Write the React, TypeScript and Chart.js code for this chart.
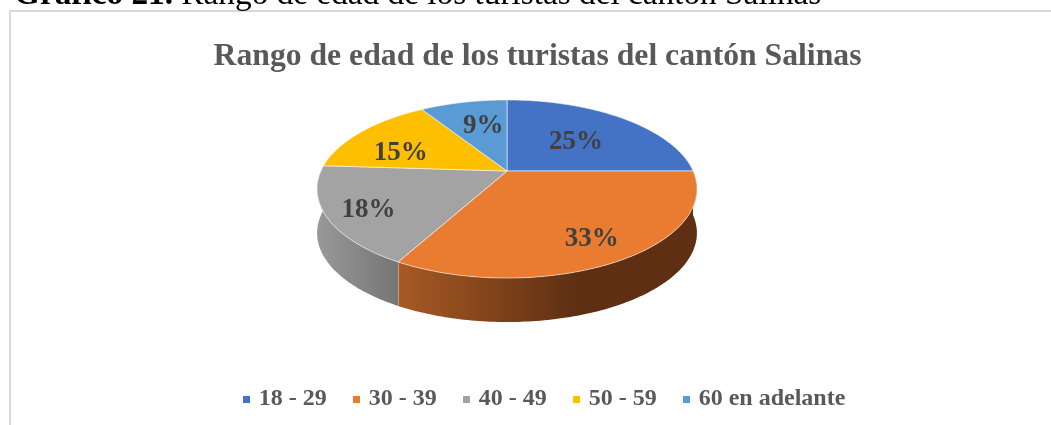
import React, { useEffect, useRef } from "react";
import { Chart, registerables } from "chart.js";

Chart.register(...registerables);

const categories = ["18 - 29", "30 - 39", "40 - 49", "50 - 59", "60 en adelante"];
const shares = [25, 33, 18, 15, 9];
const sliceColors = ["#4472C4", "#E97C30", "#A3A3A3", "#FDBF00", "#5B9BD5"];
const sideStart = ["#2F5597", "#A85A24", "#999999", "#B38600", "#3F74A6"];
const sideEnd = ["#2F5597", "#5E2F12", "#757575", "#B38600", "#3F74A6"];
const labelNudgeX = [-6, 19, -31, -13, 5];
const labelNudgeY = [5, 17, 12, 7, 0];
const caption = "Rango de edad de los turistas del cantón Salinas";
const heading = "Gráfico 21.";
const headingRest = " Rango de edad de los turistas del cantón Salinas";

const SERIF = '"Liberation Serif", "Times New Roman", serif';
const CANVAS_LEFT = 10;
const CANVAS_TOP = 12;
const APEX_X = 507 - CANVAS_LEFT;
const APEX_Y = 171 - CANVAS_TOP;
const RX = 186;
const RY = 85.4;
const PERSPECTIVE = -0.202;
const DEPTH = 44;
const LEGEND_SHIFT = 8;

function project(angle: number, r = 1) {
  const u = Math.cos(angle) * r;
  const v = Math.sin(angle) * r;
  const d = 1 + PERSPECTIVE * v;
  return { x: APEX_X + (RX * u) / d, y: APEX_Y + (RY * v) / d };
}

function swatch(color: string) {
  const c = document.createElement("canvas");
  c.width = 7;
  c.height = 7;
  const g = c.getContext("2d") as CanvasRenderingContext2D;
  g.fillStyle = color;
  g.fillRect(0, 0, 7, 7);
  return c;
}

const pie3d = {
  id: "pie3d",
  afterLayout(chart: any) {
    if (chart.legend) {
      chart.legend.left += LEGEND_SHIFT;
      chart.legend.right += LEGEND_SHIFT;
    }
  },
  beforeDatasetDraw(chart: any) {
    const ctx = chart.ctx as CanvasRenderingContext2D;
    const arcs = chart.getDatasetMeta(0).data as any[];
    const steps = (a0: number, a1: number) => {
      const n = Math.max(2, Math.ceil(Math.abs(a1 - a0) * 60));
      const out = [];
      for (let i = 0; i <= n; i++) out.push(project(a0 + ((a1 - a0) * i) / n));
      return out;
    };
    arcs.forEach((arc, i) => {
      const a0 = Math.max(arc.startAngle, -0.21);
      const a1 = Math.min(arc.endAngle, Math.PI + 0.21);
      if (a1 <= a0) return;
      const pts = steps(a0, a1);
      const xs = pts.map((p) => p.x);
      const xMin = Math.min(...xs);
      const xMax = Math.max(...xs);
      const g = ctx.createLinearGradient(xMin, 0, xMax, 0);
      g.addColorStop(0, sideStart[i]);
      g.addColorStop(i === 1 ? 0.6 : 1, sideEnd[i]);
      if (i === 1) g.addColorStop(1, sideEnd[i]);
      ctx.beginPath();
      pts.forEach((p, k) => (k ? ctx.lineTo(p.x, p.y) : ctx.moveTo(p.x, p.y)));
      for (let k = pts.length - 1; k >= 0; k--) ctx.lineTo(pts[k].x, pts[k].y + DEPTH);
      ctx.closePath();
      ctx.fillStyle = g;
      ctx.fill();
      if (i === 1) {
        const end = pts[pts.length - 1];
        ctx.beginPath();
        ctx.moveTo(end.x, end.y);
        ctx.lineTo(end.x, end.y + DEPTH);
        ctx.strokeStyle = "rgba(255,255,255,0.55)";
        ctx.lineWidth = 1;
        ctx.stroke();
      }
    });
    arcs.forEach((arc, i) => {
      const pts = steps(arc.startAngle, arc.endAngle);
      ctx.beginPath();
      ctx.moveTo(APEX_X, APEX_Y);
      pts.forEach((p) => ctx.lineTo(p.x, p.y));
      ctx.closePath();
      ctx.fillStyle = sliceColors[i];
      ctx.fill();
      ctx.strokeStyle = "rgba(255,255,255,0.55)";
      ctx.lineWidth = 1;
      ctx.stroke();
    });
    ctx.save();
    ctx.font = `bold 27px ${SERIF}`;
    ctx.fillStyle = "#404040";
    ctx.textAlign = "center";
    ctx.textBaseline = "middle";
    arcs.forEach((arc, i) => {
      const p = project((arc.startAngle + arc.endAngle) / 2, 0.62);
      ctx.fillText(`${shares[i]}%`, p.x + labelNudgeX[i], p.y + labelNudgeY[i]);
    });
    ctx.restore();
    return false;
  },
};

export default function App() {
  const ref = useRef<HTMLCanvasElement>(null);
  useEffect(() => {
    document.body.style.margin = "0";
    document.body.style.overflow = "hidden";
    const chart = new Chart(ref.current as HTMLCanvasElement, {
      type: "pie",
      data: {
        labels: categories,
        datasets: [{ data: shares, backgroundColor: sliceColors, borderWidth: 0 }],
      },
      options: {
        animation: false,
        responsive: false,
        layout: { padding: { left: 0, right: 0, top: 0, bottom: 4 } },
        plugins: {
          tooltip: { enabled: false },
          title: {
            display: true,
            text: caption,
            color: "#595959",
            font: { family: SERIF, size: 31.7, weight: "bold" },
            padding: { top: 26, bottom: 8 },
          },
          legend: {
            position: "bottom",
            labels: {
              color: "#595959",
              font: { family: SERIF, size: 24, weight: "bold" },
              usePointStyle: true,
              boxWidth: 1,
              boxHeight: 7,
              padding: 29,
              generateLabels: (c: any) =>
                (Chart as any).overrides.doughnut.plugins.legend.labels
                  .generateLabels(c)
                  .map((item: any, i: number) => ({ ...item, pointStyle: swatch(sliceColors[i]) })),
            },
          },
        },
      },
      plugins: [pie3d],
    } as any);
    return () => chart.destroy();
  }, []);
  return (
    <div style={{ position: "relative", width: 1051, height: 425, overflow: "hidden", background: "#fff" }}>
      <div
        style={{
          position: "absolute",
          left: 14,
          top: -26,
          font: `33.3px ${SERIF}`,
          color: "#000",
          whiteSpace: "nowrap",
          zIndex: 2,
        }}
      >
        <b>{heading}</b>
        {headingRest}
      </div>
      <div
        style={{
          position: "absolute",
          left: 9,
          top: 10,
          width: 1100,
          height: 500,
          border: "2px solid #D9D9D9",
          boxSizing: "border-box",
        }}
      />
      <canvas
        ref={ref}
        width={1055}
        height={413}
        style={{ position: "absolute", left: CANVAS_LEFT, top: CANVAS_TOP, filter: "blur(0.5px)" }}
      />
    </div>
  );
}
